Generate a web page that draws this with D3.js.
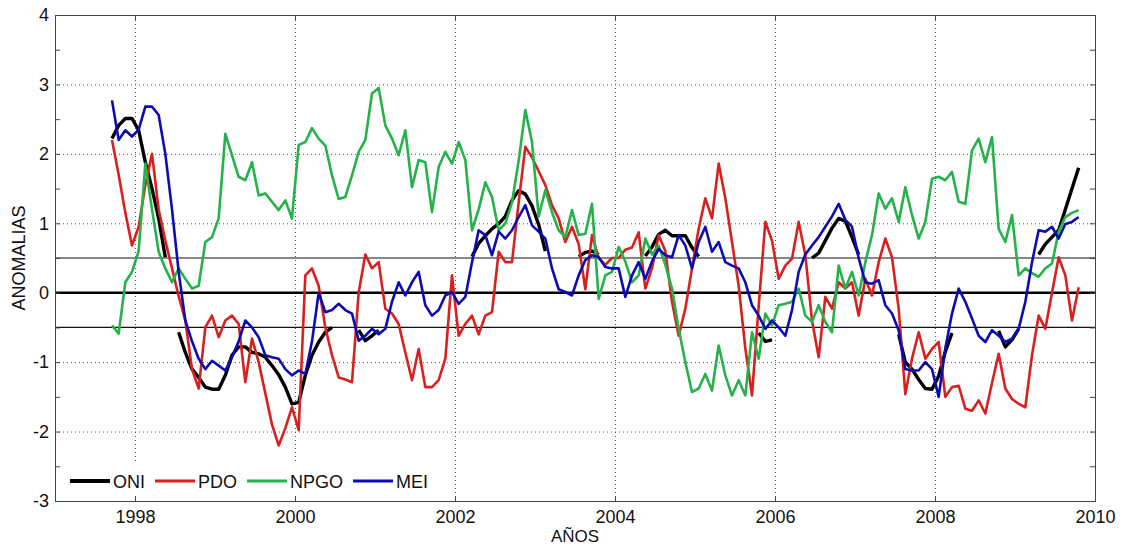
<!DOCTYPE html>
<html>
<head>
<meta charset="utf-8">
<script src="https://cdn.jsdelivr.net/npm/d3@7"></script>
<style>
  html, body { margin: 0; padding: 0; background: #fff; }
  svg text { font-family: "Liberation Sans", Arial, sans-serif; fill: #111; }
</style>
</head>
<body>
<div id="chart"></div>
<script>
// monthly series, first sample Sep 1997
const firstSample = 1997 + 8.55 / 12;

const oni = [
  2.22, 2.41, 2.51, 2.51, 2.34, 1.88, 1.5, 1.07, 0.51, null,
  -0.57, -0.86, -1.1, -1.22, -1.36, -1.39, -1.39, -1.19, -0.9, -0.78,
  -0.78, -0.86, -0.88, -0.93, -1.05, -1.18, -1.36, -1.6, -1.58, -1.19,
  -0.9, -0.71, -0.57, -0.5, null, null, null, -0.54, -0.69, -0.62,
  -0.54, null, null, null, null, null, null, null, null, null,
  null, null, null, null, 0.52, 0.71, 0.82, 0.92, 0.99, 1.1,
  1.33, 1.47, 1.42, 1.25, 0.98, 0.6, null, null, null, null,
  0.52, 0.58, 0.6, 0.55, null, null, null, null, null, null,
  0.53, 0.66, 0.84, 0.9, 0.82, 0.82, 0.82, 0.65, 0.52, null,
  null, null, null, null, null, null, null, -0.58, -0.7, -0.68,
  null, null, null, null, null, 0.5, 0.57, 0.75, 0.93, 1.07,
  1.03, 0.8, 0.55, null, null, null, null, null, -0.6, -1.0,
  -1.1, -1.25, -1.38, -1.39, -1.2, -0.85, -0.58, null, null, null,
  null, null, null, -0.55, -0.78, -0.68, -0.52, null, null, 0.55,
  0.7, 0.8, 0.9, 1.2, 1.5, 1.8
];

const pdo = [
  2.2, 1.7, 1.15, 0.68, 0.95, 1.55, 2.0, 1.2, 0.75, 0.35,
  -0.05, -0.4, -1.1, -1.38, -0.5, -0.33, -0.64, -0.4, -0.33, -0.45,
  -1.29, -0.66, -1.0, -1.45, -1.9, -2.2, -1.95, -1.65, -1.98, 0.25,
  0.35, 0.1, -0.5, -0.9, -1.22, -1.25, -1.29, 0.0, 0.55, 0.35,
  0.44, -0.23, -0.3, -0.45, -0.86, -1.26, -0.81, -1.36, -1.36, -1.26,
  -0.95, 0.25, -0.62, -0.45, -0.33, -0.6, -0.33, -0.28, 0.59, 0.44,
  0.44, 1.3, 2.1, 1.95, 1.75, 1.55, 1.26, 1.07, 0.73, 0.95,
  0.7, 0.05, 0.83, 0.5, 0.4, 0.5, 0.5, 0.62, 0.65, 0.87,
  0.06, 0.35, 0.83, 0.6, -0.13, -0.62, -0.23, 0.35, 0.92, 1.36,
  1.07, 1.86, 1.36, 0.73, 0.1, -0.8, -1.48, -0.2, 1.02, 0.75,
  0.2, 0.39, 0.49, 1.02, 0.54, -0.4, -0.93, -0.06, -0.23, 0.15,
  0.06, 0.15, -0.33, 0.2, -0.04, 0.44, 0.78, 0.51, -0.23, -1.46,
  -0.95, -0.57, -0.95, -0.81, -0.71, -1.5, -1.36, -1.34, -1.67, -1.7,
  -1.55, -1.74, -1.3, -0.88, -1.38, -1.53, -1.6, -1.65, -0.9, -0.33,
  -0.52, 0.0, 0.51, 0.25, -0.4, 0.08
];

const npgo = [
  -0.47, -0.59, 0.15, 0.3, 0.6, 1.86, 1.2, 0.59, 0.35, 0.15,
  0.35, 0.2, 0.06, 0.1, 0.73, 0.8, 1.07, 2.29, 1.98, 1.67,
  1.62, 1.88, 1.4, 1.43, 1.31, 1.19, 1.33, 1.07, 2.13, 2.17,
  2.37, 2.22, 2.12, 1.69, 1.35, 1.38, 1.69, 2.03, 2.2, 2.87,
  2.95, 2.41, 2.22, 1.98, 2.34, 1.52, 1.91, 1.88, 1.16, 1.81,
  2.03, 1.86, 2.17, 1.91, 0.9, 1.2, 1.59, 1.38, 0.9, 1.0,
  1.3, 1.9, 2.63, 2.17, 1.1, 1.48, 1.16, 0.9, 0.8, 1.19,
  0.83, 0.85, 1.28, -0.09, 0.25, 0.3, 0.66, 0.45, 0.15, 0.25,
  0.78, 0.55, 0.68, 0.4, 0.06, -0.52, -1.0, -1.43, -1.38, -1.17,
  -1.41, -0.76, -1.19, -1.48, -1.26, -1.48, -0.57, -0.95, -0.3, -0.47,
  -0.18, -0.16, -0.13, 0.06, -0.33, -0.42, -0.18, -0.42, -0.57, 0.39,
  0.06, 0.3, -0.04, 0.44, 0.83, 1.43, 1.21, 1.36, 1.02, 1.52,
  1.12, 0.78, 1.02, 1.64, 1.67, 1.62, 1.74, 1.31, 1.28, 2.05,
  2.22, 1.88, 2.24, 0.92, 0.73, 1.12, 0.25, 0.35, 0.28, 0.23,
  0.35, 0.42, 0.88, 1.09, 1.15, 1.19
];

const mei = [
  2.77, 2.2, 2.34, 2.25, 2.35, 2.68, 2.68, 2.56, 2.0, 1.2,
  0.3, -0.4, -0.7, -0.95, -1.1, -0.98, -1.05, -1.12, -0.93, -0.7,
  -0.4, -0.5, -0.64, -0.9, -0.93, -0.95, -1.1, -1.19, -1.12, -1.17,
  -0.7, 0.0, -0.28, -0.25, -0.16, -0.25, -0.3, -0.69, -0.62, -0.52,
  -0.6, -0.52, -0.13, 0.15, -0.04, 0.15, 0.3, -0.18, -0.33, -0.25,
  -0.04, 0.01, -0.16, -0.06, 0.44, 0.9, 0.83, 0.54, 0.88, 0.78,
  0.9, 1.09, 1.26, 0.97, 0.88, 0.78, 0.35, 0.05, 0.01, -0.04,
  0.25, 0.47, 0.54, 0.51, 0.37, 0.35, 0.35, -0.06, 0.25, 0.44,
  0.2, 0.45, 0.63, 0.54, 0.51, 0.83, 0.68, 0.35, 0.73, 0.95,
  0.59, 0.73, 0.44, 0.39, 0.35, 0.15, -0.18, -0.33, -0.52, -0.4,
  -0.5, -0.62, -0.25, 0.3, 0.55, 0.68, 0.8, 0.95, 1.1, 1.28,
  1.05, 0.95, 0.5, 0.15, 0.13, 0.18, -0.18, -0.3, -0.54, -1.1,
  -1.12, -1.12, -1.0, -1.1, -1.5, -0.8, -0.3, 0.06, -0.13, -0.37,
  -0.62, -0.71, -0.54, -0.62, -0.71, -0.66, -0.52, -0.13, 0.44, 0.9,
  0.88, 0.95, 0.78, 0.99, 1.02, 1.09
];

const xTicks = [1998, 2000, 2002, 2004, 2006, 2008, 2010];
const yTicks = [-3, -2, -1, 0, 1, 2, 3, 4];
const yMinorTicks = [-3, -2.5, -2, -1.5, -1, -0.5, 0, 0.5, 1, 1.5, 2, 2.5, 3, 3.5, 4];
const refLevels = [-0.5, 0.5];

const series = [
  {name: 'ONI', values: oni, color: '#000000', width: 3.4},
  {name: 'PDO', values: pdo, color: '#d8211f', width: 2.6},
  {name: 'NPGO', values: npgo, color: '#26b24a', width: 2.6},
  {name: 'MEI', values: mei, color: '#0c0cb2', width: 2.6}
];

const W = 1123, H = 546;
const margin = {top: 15, right: 28, bottom: 45, left: 55};
const width = W - margin.left - margin.right,
  height = H - margin.top - margin.bottom;

const x = d3.scaleLinear().domain([1997, 2010]).range([0, width]);
const y = d3.scaleLinear().domain([-3, 4]).range([height, 0]);

const svg = d3.select('#chart')
  .append('svg')
    .attr('width', W)
    .attr('height', H)
  .append('g')
    .attr('transform', 'translate(' + margin.left + ',' + margin.top + ')');

// dotted grid
svg.append('g')
  .attr('class', 'grid')
  .attr('transform', 'translate(0,' + height + ')')
  .call(d3.axisBottom(x).tickValues(xTicks.slice(0, -1)).tickSize(-height).tickFormat(''))
  .call(g => g.select('.domain').remove());
svg.append('g')
  .attr('class', 'grid')
  .call(d3.axisLeft(y).tickValues(yTicks.slice(1, -1)).tickSize(-width).tickFormat(''))
  .call(g => g.select('.domain').remove());
svg.selectAll('.grid line')
  .attr('stroke', '#555')
  .attr('stroke-width', 1)
  .attr('stroke-dasharray', '1,3');

// reference lines
svg.append('line')
  .attr('x1', 0).attr('x2', width)
  .attr('y1', y(0)).attr('y2', y(0))
  .attr('stroke', '#000').attr('stroke-width', 2.4);
svg.selectAll('.ref')
  .data(refLevels)
  .enter().append('line')
    .attr('class', 'ref')
    .attr('x1', 0).attr('x2', width)
    .attr('y1', d => y(d)).attr('y2', d => y(d))
    .attr('stroke', '#111').attr('stroke-width', 1.2);

// series
const line = d3.line()
  .defined(d => d.v !== null)
  .x(d => x(d.t))
  .y(d => y(d.v));

series.forEach(s => {
  const pts = s.values.map((v, i) => ({t: firstSample + i / 12, v: v}));
  svg.append('path')
    .datum(pts)
    .attr('fill', 'none')
    .attr('stroke', s.color)
    .attr('stroke-width', s.width)
    .attr('stroke-linejoin', 'round')
    .attr('d', line);
});

// legend (no border, white background)
const legend = svg.append('g')
  .attr('transform', 'translate(3,' + (height - 37) + ')');
const legendBg = legend.append('rect')
  .attr('x', 0).attr('y', 0)
  .attr('height', 34)
  .attr('fill', '#fff');
let lx = 12;
series.forEach(s => {
  legend.append('line')
    .attr('x1', lx).attr('x2', lx + 40)
    .attr('y1', 17).attr('y2', 17)
    .attr('stroke', s.color)
    .attr('stroke-width', s.name === 'ONI' ? 4 : 3);
  const t = legend.append('text')
    .attr('x', lx + 43)
    .attr('y', 24)
    .attr('font-size', 18)
    .text(s.name);
  lx += 43 + t.node().getComputedTextLength() + 10;
});
legendBg.attr('width', lx);

// axes with inward ticks
const fmt = d => Number.isInteger(d) ? String(d) : '';

svg.append('g')
  .attr('class', 'axis')
  .attr('transform', 'translate(0,' + height + ')')
  .call(d3.axisBottom(x).tickValues(xTicks).tickSize(-5).tickPadding(9).tickFormat(d => String(d)));
svg.append('g')
  .attr('class', 'axis')
  .call(d3.axisTop(x).tickValues(xTicks).tickSize(-5).tickFormat(''));
svg.append('g')
  .attr('class', 'axis')
  .call(d3.axisLeft(y).tickValues(yMinorTicks).tickSize(-5).tickPadding(6).tickFormat(fmt));
svg.append('g')
  .attr('class', 'axis')
  .attr('transform', 'translate(' + width + ',0)')
  .call(d3.axisRight(y).tickValues(yMinorTicks).tickSize(-5).tickFormat(''));

svg.selectAll('.axis .domain').attr('stroke', '#444');
svg.selectAll('.axis line').attr('stroke', '#444');
svg.selectAll('.axis text')
  .attr('font-size', 18)
  .attr('font-family', '"Liberation Sans", Arial, sans-serif')
  .attr('fill', '#111');

// axis titles
svg.append('text')
  .attr('x', width / 2)
  .attr('y', height + 41)
  .attr('text-anchor', 'middle')
  .attr('font-size', 17)
  .text('AÑOS');

svg.append('text')
  .attr('transform', 'translate(' + (-30) + ',' + (height / 2) + ') rotate(-90)')
  .attr('text-anchor', 'middle')
  .attr('font-size', 18)
  .text('ANOMALIAS');
</script>
</body>
</html>
